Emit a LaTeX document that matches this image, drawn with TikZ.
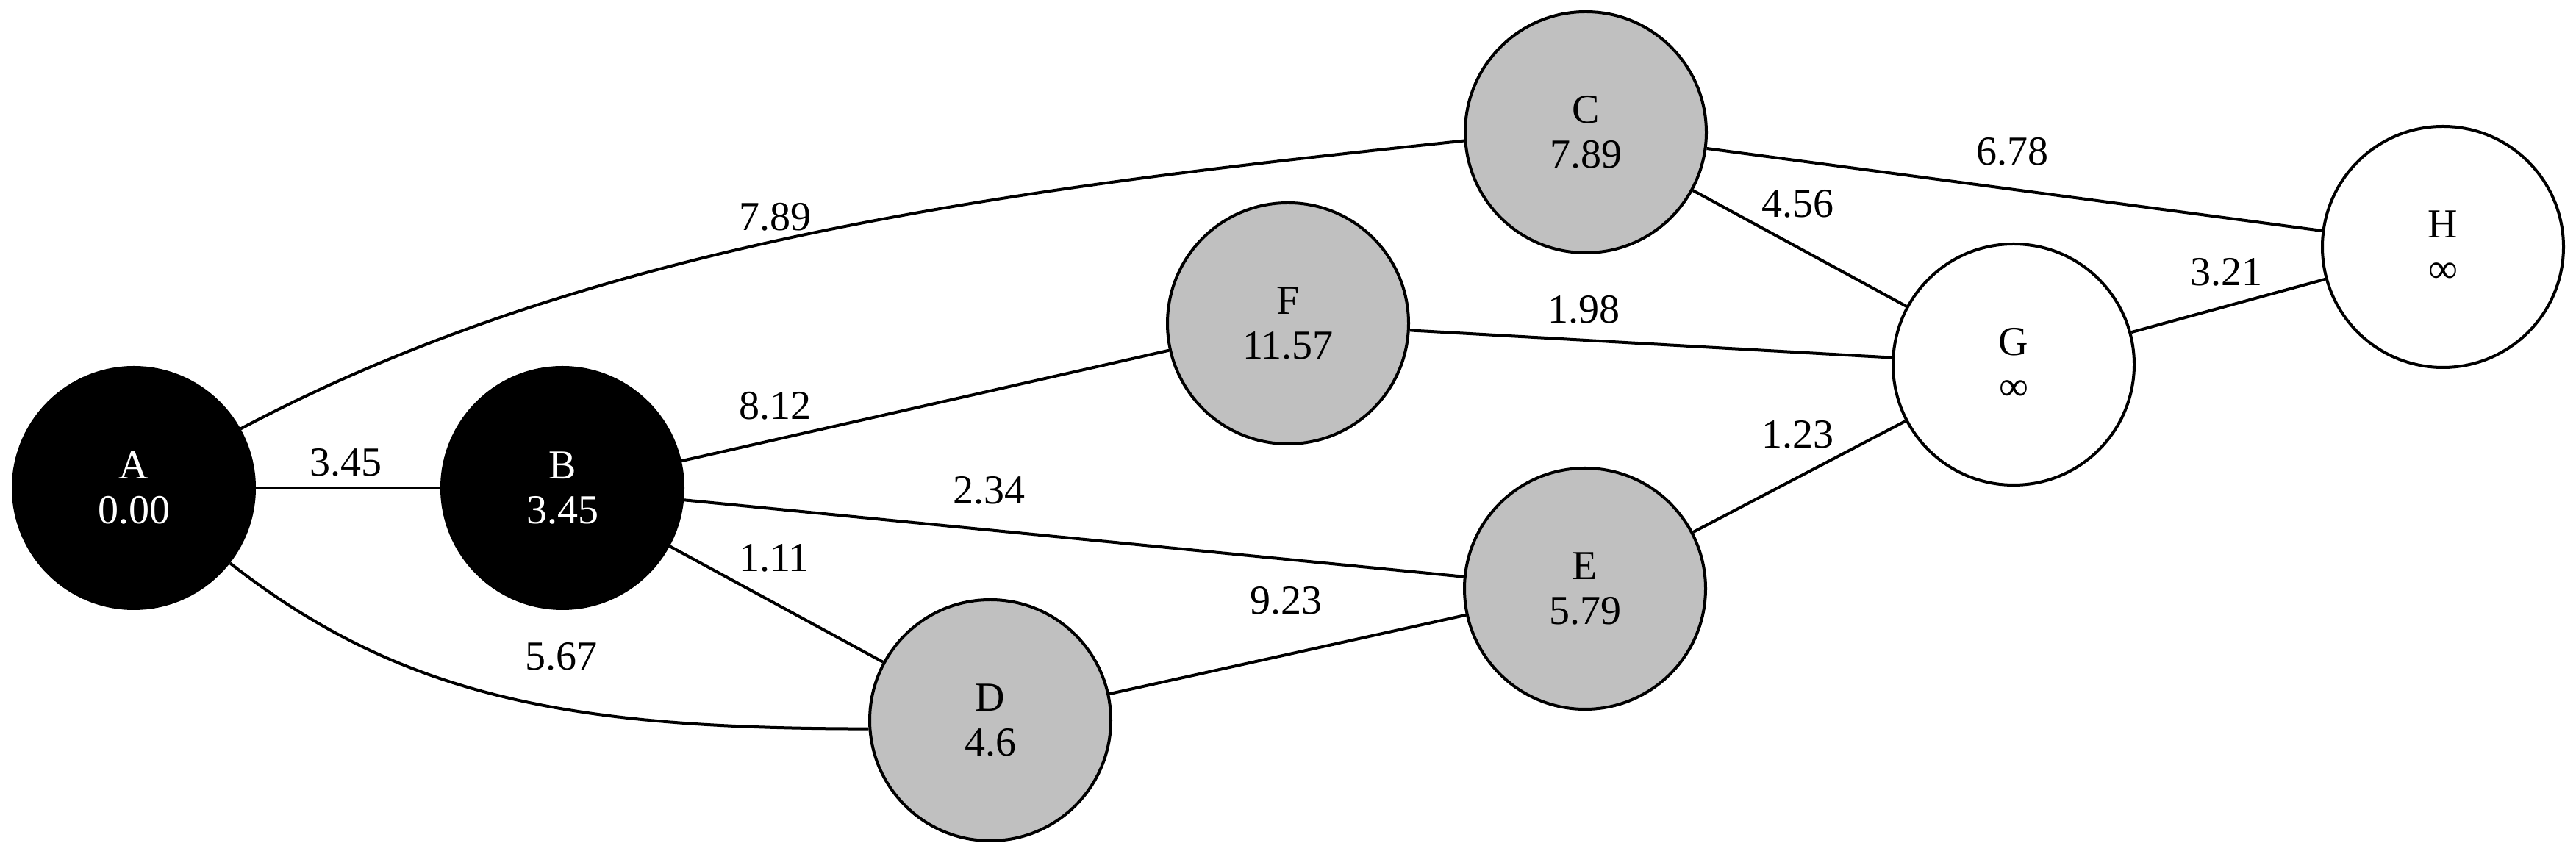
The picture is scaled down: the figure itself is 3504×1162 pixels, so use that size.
\documentclass[tikz,border=0pt]{standalone}
\usepackage{fontspec}
\setmainfont{Liberation Serif}
\newcommand{\infsym}{\smash{∞}\vphantom{0}}
\begin{document}
\begin{tikzpicture}[x=0.25pt,y=-0.25pt,
  every node/.style={font=\fontsize{14}{15.3}\selectfont},
  vert/.style={circle,draw=black,line width=1pt,minimum size=82pt,inner sep=0pt,align=center},
  done/.style={vert,fill=black,text=white},
  seen/.style={vert,fill={rgb,255:red,192;green,192;blue,192}},
  open/.style={vert,fill=white},
  wlabel/.style={inner sep=0pt,anchor=center},
  edge/.style={line width=1pt}]
\useasboundingbox (0,0) rectangle (3504,1162);
\node[done] (A) at (182,664) {A\\0.00};
\node[done] (B) at (765,664) {B\\3.45};
\node[seen] (C) at (2157,180) {C\\7.89};
\node[seen] (F) at (1752,440) {F\\11.57};
\node[open] (G) at (2739,496) {G\\\infsym};
\node[open] (H) at (3323,336) {H\\\infsym};
\node[seen] (E) at (2156,801) {E\\5.79};
\node[seen] (D) at (1347,980) {D\\4.6};
\draw[edge] (A) -- (B);
\draw[edge] (A.29) .. controls +(486,-258) and +(-597,63) .. (C.184.5);
\draw[edge] (A.-38.7) .. controls +(236,185) and +(-400,0) .. (D.184);
\draw[edge] (B) -- (F);
\draw[edge] (B) -- (E);
\draw[edge] (B) -- (D);
\draw[edge] (D) -- (E);
\draw[edge] (F) -- (G);
\draw[edge] (C) -- (G);
\draw[edge] (C) -- (H);
\draw[edge] (E) -- (G);
\draw[edge] (G) -- (H);
\node[wlabel] (lAB) at (470,629) {3.45};
\node[wlabel] (lAC) at (1054,295) {7.89};
\node[wlabel] (lAD) at (763,893) {5.67};
\node[wlabel] (lBF) at (1054,552) {8.12};
\node[wlabel] (lBE) at (1345,667) {2.34};
\node[wlabel] (lBD) at (1053,759) {1.11};
\node[wlabel] (lDE) at (1749,817) {9.23};
\node[wlabel] (lFG) at (2154,421) {1.98};
\node[wlabel] (lCG) at (2445,277) {4.56};
\node[wlabel] (lCH) at (2737,206) {6.78};
\node[wlabel] (lEG) at (2445,591) {1.23};
\node[wlabel] (lGH) at (3028,370) {3.21};
\end{tikzpicture}
\end{document}
